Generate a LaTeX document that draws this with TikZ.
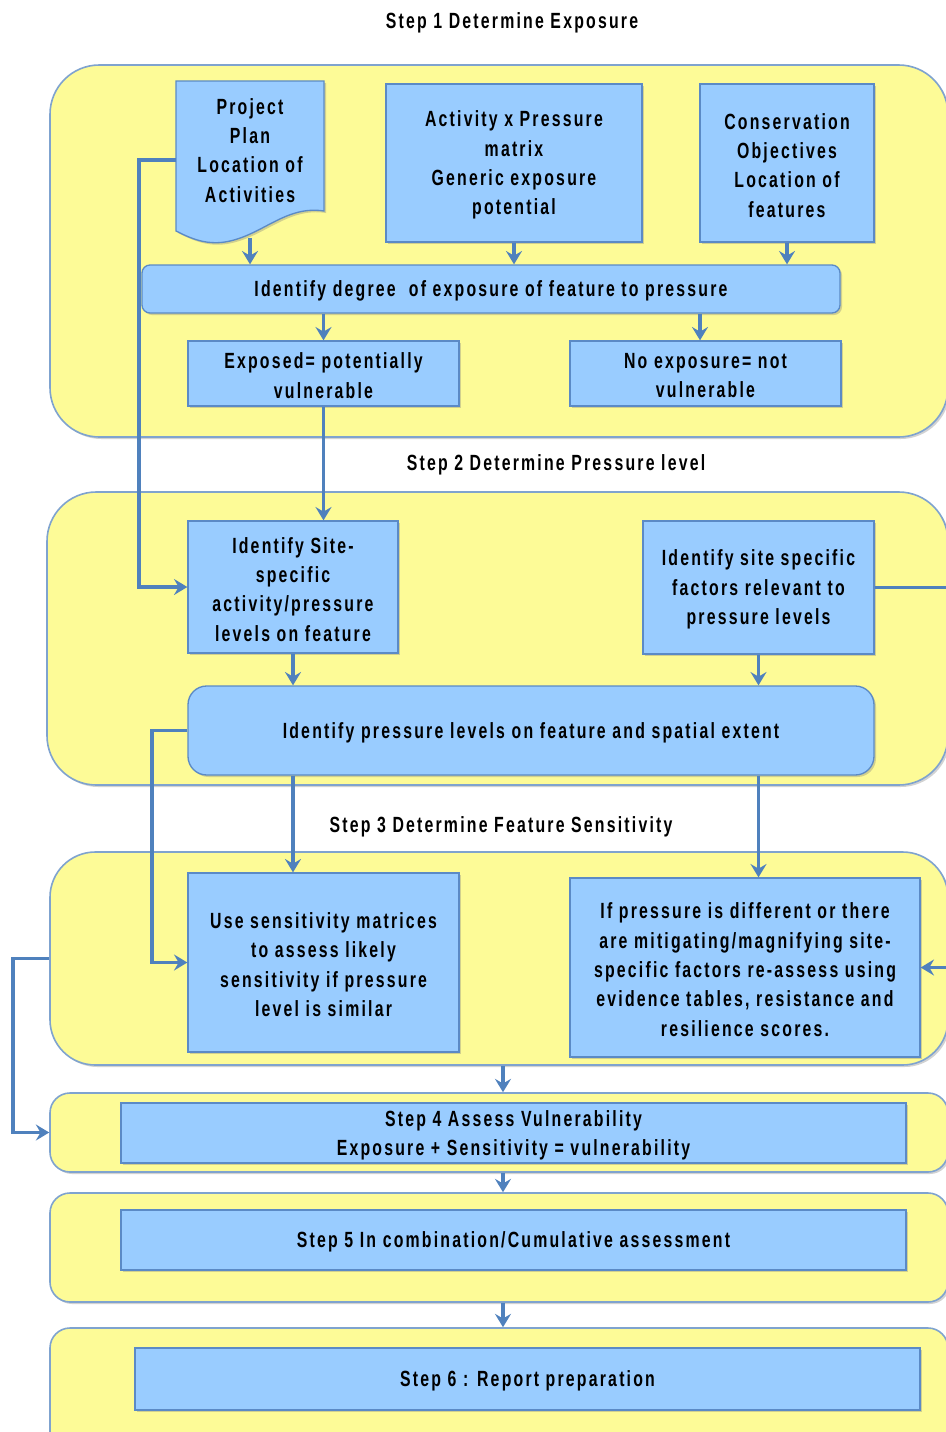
\documentclass[tikz,border=0pt]{standalone}
\usepackage{fontspec}
\newfontfamily\dfont[FakeStretch=0.72,LetterSpace=10]{Liberation Sans}
\usetikzlibrary{arrows.meta,shadows,fit}
\definecolor{yel}{HTML}{FDFB97}
\definecolor{pbord}{HTML}{7FA3CF}
\definecolor{bfill}{HTML}{99CCFF}
\definecolor{bbord}{HTML}{5B8AC6}
\definecolor{lc}{HTML}{4F81BD}
\tikzset{
  panel/.style={draw=pbord, line width=1.2pt, fill=yel, inner sep=0pt,
    drop shadow={shadow xshift=1.5pt, shadow yshift=-1.5pt, opacity=0.35}},
  bbox/.style={draw=bbord, line width=1pt, fill=bfill, inner sep=0pt,
    drop shadow={shadow xshift=1.5pt, shadow yshift=-1.5pt, opacity=0.35}},
  arr/.style={draw=lc, line width=2.4pt, -{Stealth[length=10pt,width=12pt,inset=3.5pt]}},
  ttl/.style={inner sep=0pt, align=center, yshift=-1.6pt}
}
\begin{document}
\begin{tikzpicture}[x=0.75pt,y=-0.75pt,font=\dfont\fontsize{16.5}{22}\bfseries]
\useasboundingbox (0,0) rectangle (946,1432);
\clip (0,0) rectangle (946,1432);
\fill[white] (0,0) rectangle (946,1432);

% titles
\node[ttl] (t1) at (512,21) {Step 1 Determine Exposure};
\node[ttl] (t2) at (556,463) {Step 2 Determine Pressure level};
\node[ttl] (t3) at (501,825) {Step 3 Determine Feature Sensitivity};

% panels
\node[panel, rounded corners=37pt, fit={(50,65)(948,437)}] (P1) {};
\node[panel, rounded corners=37pt, fit={(47,492)(948,785)}] (P2) {};
\node[panel, rounded corners=34pt, fit={(50,852)(948,1065)}] (P3) {};
\node[panel, rounded corners=15pt, fit={(50,1093)(948,1172)}] (P4) {};
\node[panel, rounded corners=15pt, fit={(50,1193)(948,1302)}] (P5) {};
\node[panel, rounded corners=15pt, fit={(50,1328)(948,1460)}] (P6) {};

% step 1 boxes
\path[draw=bbord, line width=1pt, fill=bfill,
  drop shadow={shadow xshift=1.5pt, shadow yshift=-1.5pt, opacity=0.35}]
  (176,81) -- (324,81) -- (324,211)
  .. controls (285,205) and (262,236) .. (225,242)
  .. controls (205,245) and (190,238) .. (176,231) -- cycle;
\node[ttl] (pp) at (250,148) {Project\\Plan\\Location of\\Activities};
\coordinate (ppL) at (176,160);
\coordinate (ppB) at (250,238);

\node[bbox, fit={(386,84)(642,242)}] (apm) {};
\node[ttl] (apmT) at (apm.center) {Activity x Pressure\\matrix\\Generic exposure\\potential};
\node[bbox, fit={(700,84)(874,242)}] (cof) {};
\node[ttl] (cofT) at (cof.center) {Conservation\\Objectives\\Location of\\features};
\node[bbox, rounded corners=6pt, fit={(142,265)(840,313)}] (idg) {};
\node[ttl] (idgT) at (idg.center) {Identify degree\ \ of exposure of feature to pressure};
\node[bbox, fit={(188,341)(459,406)}] (exp) {};
\node[ttl] (expT) at (exp.center) {Exposed= potentially\\vulnerable};
\node[bbox, fit={(570,341)(841,406)}] (nex) {};
\node[ttl] (nexT) at (nex.center) {No exposure= not\\vulnerable};

% step 2 boxes
\node[bbox, fit={(188,521)(398,653)}] (iss) {};
\node[ttl] (issT) at (iss.center) {Identify Site-\\specific\\activity/pressure\\levels on feature};
\node[bbox, fit={(643,521)(874,654)}] (isf) {};
\node[ttl] (isfT) at (isf.center) {Identify site specific\\factors relevant to\\pressure levels};
\node[bbox, rounded corners=14pt, fit={(188,686)(874,775)}] (ipl) {};
\node[ttl] (iplT) at (ipl.center) {Identify pressure levels on feature and spatial extent};

% step 3 boxes
\node[bbox, fit={(188,873)(459,1052)}] (usm) {};
\node[ttl] (usmT) at (usm.center) {Use sensitivity matrices\\to assess likely\\sensitivity if pressure\\level is similar};
\node[bbox, fit={(570,878)(920,1057)}] (ifp) {};
\node[ttl] (ifpT) at (ifp.center) {If pressure is different or there\\are mitigating/magnifying site-\\specific factors re-assess using\\evidence tables, resistance and\\resilience scores.};

% steps 4-6
\node[bbox, fit={(121,1103)(906,1163)}] (s4) {};
\node[ttl] (s4T) at (s4.center) {Step 4 Assess Vulnerability\\Exposure + Sensitivity = vulnerability};
\node[bbox, fit={(121,1210)(906,1270)}] (s5) {};
\node[ttl] (s5T) at (s5.center) {Step 5 In combination/Cumulative assessment};
\node[bbox, fit={(135,1348)(920,1410)}] (s6) {};
\node[ttl] (s6T) at (s6.center) {Step 6 : Report preparation};

% helper coordinates
\coordinate (cL1) at (139,0);
\coordinate (cL2) at (152,0);
\coordinate (cL3) at (13,0);
\coordinate (cR) at (965,0);
\coordinate (cM) at (503,0);
\coordinate (cE) at (700,0);

% connectors step 1
\draw[arr] (ppB) -- (ppB |- idg.north);
\draw[arr] (apm.south) -- (apm.south |- idg.north);
\draw[arr] (cof.south) -- (cof.south |- idg.north);
\draw[arr] (exp.north |- idg.south) -- (exp.north);
\draw[arr] (cE |- idg.south) -- (cE |- nex.north);
\draw[arr] (exp.south) -- (exp.south |- iss.north);
\draw[arr] (ppL) -- (ppL -| cL1) |- (iss.west);

% step 2
\draw[arr] (iss.south) -- (iss.south |- ipl.north);
\draw[arr] (isf.south) -- (isf.south |- ipl.north);
\draw[arr] (isf.east) -- (isf.east -| cR) |- (ifp.east);

% step 3
\draw[arr] (ipl.south -| iss.south) -- (usm.north -| iss.south);
\draw[arr] (ipl.south -| isf.south) -- (ifp.north -| isf.south);
\draw[arr] (ipl.west) -- (ipl.west -| cL2) |- (usm.west);
\draw[arr] (P3.west) -- (P3.west -| cL3) |- (P4.west);

% lower
\draw[arr] (P3.south -| cM) -- (P4.north -| cM);
\draw[arr] (P4.south -| cM) -- (P5.north -| cM);
\draw[arr] (P5.south -| cM) -- (P6.north -| cM);
\end{tikzpicture}
\end{document}
